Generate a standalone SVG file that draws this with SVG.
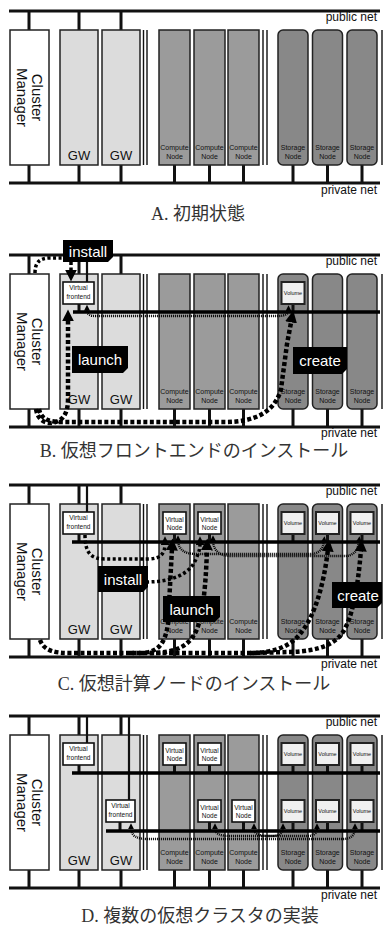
<svg xmlns="http://www.w3.org/2000/svg" width="384" height="929" viewBox="0 0 384 929">
<style>
.net{stroke:#111;stroke-width:3;fill:none}
.conn{stroke:#111;stroke-width:3;fill:none}
.conn2{stroke:#111;stroke-width:2.2;fill:none}
.nd{stroke:#222;stroke-width:1.5}
.cm{fill:#fff}
.gw{fill:#dcdcdc}
.cp{fill:#9b9b9b}
.st{fill:#888}
.sep{stroke:#111;stroke-width:1.4;fill:none}
.box{fill:#fff;stroke:#111;stroke-width:1.6}
.vol{fill:#f0f0f0;stroke:#222;stroke-width:2}
.inet{stroke:#000;stroke-width:3.5;fill:none}
text{font-family:"Liberation Sans",Arial,sans-serif;fill:#111}
.netlbl{font-size:12px;text-anchor:end}
.gwt{font-size:13px;text-anchor:middle}
.sm{font-size:7px;text-anchor:middle}
.vt{font-size:6.5px;text-anchor:middle}
.volt{font-size:5.5px;text-anchor:middle}
.cmt{font-size:15px;text-anchor:middle}
.cap{font-family:"Liberation Serif","Noto Sans CJK JP",serif;font-size:18px;text-anchor:middle;fill:#333}
.lab{fill:#000}
.labt{fill:#fff;font-size:15px;text-anchor:middle}
.thick{fill:none;stroke:#000;stroke-width:4.5;stroke-dasharray:4 2.5}
.med{fill:none;stroke:#000;stroke-width:3.5;stroke-dasharray:3 2.5}
.fine{fill:none;stroke:#000;stroke-width:2.4;stroke-dasharray:1 1}
</style>
<defs>
<marker id="ab" viewBox="0 0 10 10" refX="2" refY="5" markerWidth="12" markerHeight="12" markerUnits="userSpaceOnUse" orient="auto"><path d="M0,0L10,5L0,10z" fill="#000"/></marker>
<marker id="am" viewBox="0 0 10 10" refX="2" refY="5" markerWidth="9" markerHeight="9" markerUnits="userSpaceOnUse" orient="auto"><path d="M0,0L10,5L0,10z" fill="#000"/></marker>
<marker id="as" viewBox="0 0 10 10" refX="2" refY="5" markerWidth="6" markerHeight="6" markerUnits="userSpaceOnUse" orient="auto-start-reverse"><path d="M0,0L10,5L0,10z" fill="#000"/></marker>
</defs>

<!-- ============ Panel A ============ -->
<g id="panelA">
<g id="A-connectors">
<path class="net" d="M9 11H380M9 183H380"/>
<path class="conn" d="M29 11V30M79 11V30M121 11V30M29 165V183M79 165V183M121 165V183M174.5 165V183M209.5 165V183M243.5 165V183M293 165V183M327.5 165V183M362 165V183"/>
</g>
<text class="netlbl" x="377" y="21">public net</text>
<text class="netlbl" x="377" y="194">private net</text>
<g id="A-cm"><rect class="nd cm" x="10" y="30" width="39" height="135"/><text class="cmt" transform="translate(29,97.5) rotate(90)"><tspan x="0" y="-3">Cluster</tspan><tspan x="0" y="12">Manager</tspan></text></g>
<g id="A-gw1"><rect class="nd gw" x="60" y="30" width="38" height="135"/><text class="gwt" x="79" y="159.5">GW</text></g>
<g id="A-gw2"><rect class="nd gw" x="102" y="30" width="38" height="135"/><text class="gwt" x="121" y="159.5">GW</text></g>
<path class="sep" d="M143.5 30V165M147 30V165M263 30V165M267 30V165M382 30V165"/>
<g id="A-c1"><rect class="nd cp" x="159" y="30" width="31" height="135"/><text class="sm" x="174.5" y="150">Compute</text><text class="sm" x="174.5" y="159">Node</text></g>
<g id="A-c2"><rect class="nd cp" x="194" y="30" width="31" height="135"/><text class="sm" x="209.5" y="150">Compute</text><text class="sm" x="209.5" y="159">Node</text></g>
<g id="A-c3"><rect class="nd cp" x="228" y="30" width="31" height="135"/><text class="sm" x="243.5" y="150">Compute</text><text class="sm" x="243.5" y="159">Node</text></g>
<g id="A-s1"><rect class="nd st" x="278" y="30" width="30" height="135" rx="5"/><text class="sm" x="293" y="150">Storage</text><text class="sm" x="293" y="159">Node</text></g>
<g id="A-s2"><rect class="nd st" x="312.5" y="30" width="30" height="135" rx="5"/><text class="sm" x="327.5" y="150">Storage</text><text class="sm" x="327.5" y="159">Node</text></g>
<g id="A-s3"><rect class="nd st" x="347" y="30" width="30" height="135" rx="5"/><text class="sm" x="362" y="150">Storage</text><text class="sm" x="362" y="159">Node</text></g>
</g>
<text class="cap" x="198" y="220">A. 初期状態</text>

<!-- ============ Panel B ============ -->
<g id="panelB" transform="translate(0,244)">
<g id="B-connectors">
<path class="net" d="M9 11H380M9 183H380"/>
<path class="conn" d="M29 11V30M79 11V30M121 11V30M29 165V183M79 165V183M121 165V183M174.5 165V183M209.5 165V183M243.5 165V183M293 165V183M327.5 165V183M362 165V183"/>
</g>
<text class="netlbl" x="377" y="21">public net</text>
<text class="netlbl" x="377" y="193">private net</text>
<g id="B-cm"><rect class="nd cm" x="10" y="30" width="39" height="135"/><text class="cmt" transform="translate(29,97.5) rotate(90)"><tspan x="0" y="-3">Cluster</tspan><tspan x="0" y="12">Manager</tspan></text></g>
<g id="B-gw1"><rect class="nd gw" x="60" y="30" width="38" height="135"/><text class="gwt" x="79" y="159.5">GW</text></g>
<g id="B-gw2"><rect class="nd gw" x="102" y="30" width="38" height="135"/><text class="gwt" x="121" y="159.5">GW</text></g>
<path class="sep" d="M143.5 30V165M147 30V165M263 30V165M267 30V165M382 30V165"/>
<g id="B-c1"><rect class="nd cp" x="159" y="30" width="31" height="135"/><text class="sm" x="174.5" y="150">Compute</text><text class="sm" x="174.5" y="159">Node</text></g>
<g id="B-c2"><rect class="nd cp" x="194" y="30" width="31" height="135"/><text class="sm" x="209.5" y="150">Compute</text><text class="sm" x="209.5" y="159">Node</text></g>
<g id="B-c3"><rect class="nd cp" x="228" y="30" width="31" height="135"/><text class="sm" x="243.5" y="150">Compute</text><text class="sm" x="243.5" y="159">Node</text></g>
<g id="B-s1"><rect class="nd st" x="278" y="30" width="30" height="135" rx="5"/><text class="sm" x="293" y="150">Storage</text><text class="sm" x="293" y="159">Node</text></g>
<g id="B-s2"><rect class="nd st" x="312.5" y="30" width="30" height="135" rx="5"/><text class="sm" x="327.5" y="150">Storage</text><text class="sm" x="327.5" y="159">Node</text></g>
<g id="B-s3"><rect class="nd st" x="347" y="30" width="30" height="135" rx="5"/><text class="sm" x="362" y="150">Storage</text><text class="sm" x="362" y="159">Node</text></g>
<g id="B-inner-connectors">
<path class="conn2" d="M87 11V38"/>
<path class="conn" d="M79 60V68M293 60V68"/>
<path class="inet" d="M73 68H380"/>
</g>
<g id="B-vf"><rect class="box" x="63" y="38" width="31" height="22"/><text class="vt" x="78.5" y="46">Virtual</text><text class="vt" x="78.5" y="55">frontend</text></g>
<g id="B-vol1"><rect class="vol" x="281.5" y="38" width="23" height="22"/><text class="volt" x="293" y="51">Volume</text></g>
<g id="B-arrows">
<path class="med" d="M35 29C35 18 40 14 50 14L64 14"/>
<path class="med" d="M71 18L71 28" marker-end="url(#ab)"/>
<path class="thick" d="M36 165C38 178 48 181 56 178C64 175 68 168 68 155L68 75" marker-end="url(#ab)"/>
<path class="thick" d="M39 165C41 176 50 178 62 178L225 178C255 178 275 168 281 145L287 100L291.5 76" marker-end="url(#ab)"/>
<path class="fine" d="M87 65.5C87 71 90 72 96 72L278 72C285 72 288.5 70 288.5 66" marker-start="url(#as)" marker-end="url(#as)"/>
</g>
<g id="B-lbl-install"><polygon class="lab" points="63,-4 113,-4 113,13 108,18 63,18"/><text class="labt" x="88" y="12.5">install</text></g>
<g id="B-lbl-launch"><polygon class="lab" points="72,102 128,102 128,124 123,129 72,129"/><text class="labt" x="100" y="121">launch</text></g>
<g id="B-lbl-create"><polygon class="lab" points="293,103 347,103 347,125 342,130 293,130"/><text class="labt" x="320" y="122">create</text></g>
</g>
<text class="cap" x="194" y="457">B. 仮想フロントエンドのインストール</text>

<!-- ============ Panel C ============ -->
<g id="panelC" transform="translate(0,474)">
<g id="C-connectors">
<path class="net" d="M9 11H380M9 183H380"/>
<path class="conn" d="M29 11V30M79 11V30M121 11V30M29 165V183M79 165V183M121 165V183M174.5 165V183M209.5 165V183M243.5 165V183M293 165V183M327.5 165V183M362 165V183"/>
</g>
<text class="netlbl" x="377" y="21">public net</text>
<text class="netlbl" x="377" y="194">private net</text>
<g id="C-cm"><rect class="nd cm" x="10" y="30" width="39" height="135"/><text class="cmt" transform="translate(29,97.5) rotate(90)"><tspan x="0" y="-3">Cluster</tspan><tspan x="0" y="12">Manager</tspan></text></g>
<g id="C-gw1"><rect class="nd gw" x="60" y="30" width="38" height="135"/><text class="gwt" x="79" y="159.5">GW</text></g>
<g id="C-gw2"><rect class="nd gw" x="102" y="30" width="38" height="135"/><text class="gwt" x="121" y="159.5">GW</text></g>
<path class="sep" d="M143.5 30V165M147 30V165M263 30V165M267 30V165M382 30V165"/>
<g id="C-c1"><rect class="nd cp" x="159" y="30" width="31" height="135"/><text class="sm" x="174.5" y="150">Compute</text><text class="sm" x="174.5" y="159">Node</text></g>
<g id="C-c2"><rect class="nd cp" x="194" y="30" width="31" height="135"/><text class="sm" x="209.5" y="150">Compute</text><text class="sm" x="209.5" y="159">Node</text></g>
<g id="C-c3"><rect class="nd cp" x="228" y="30" width="31" height="135"/><text class="sm" x="243.5" y="150">Compute</text><text class="sm" x="243.5" y="159">Node</text></g>
<g id="C-s1"><rect class="nd st" x="278" y="30" width="30" height="135" rx="5"/><text class="sm" x="293" y="150">Storage</text><text class="sm" x="293" y="159">Node</text></g>
<g id="C-s2"><rect class="nd st" x="312.5" y="30" width="30" height="135" rx="5"/><text class="sm" x="327.5" y="150">Storage</text><text class="sm" x="327.5" y="159">Node</text></g>
<g id="C-s3"><rect class="nd st" x="347" y="30" width="30" height="135" rx="5"/><text class="sm" x="362" y="150">Storage</text><text class="sm" x="362" y="159">Node</text></g>
<g id="C-inner-connectors">
<path class="conn2" d="M87 11V38"/>
<path class="conn" d="M79 60V68M174.5 60V68M209.5 60V68M293 60V68M327.5 60V68M362 60V68"/>
<path class="inet" d="M72 68H380"/>
</g>
<g id="C-vf"><rect class="box" x="63" y="38" width="31" height="22"/><text class="vt" x="78.5" y="46">Virtual</text><text class="vt" x="78.5" y="55">frontend</text></g>
<g id="C-vn1"><rect class="box" x="163" y="38" width="23" height="22"/><text class="vt" x="174.5" y="47.5">Virtual</text><text class="vt" x="174.5" y="56">Node</text></g>
<g id="C-vn2"><rect class="box" x="198" y="38" width="23" height="22"/><text class="vt" x="209.5" y="47.5">Virtual</text><text class="vt" x="209.5" y="56">Node</text></g>
<g id="C-vol1"><rect class="vol" x="281.5" y="38" width="23" height="22"/><text class="volt" x="293" y="51">Volume</text></g>
<g id="C-vol2"><rect class="vol" x="316" y="38" width="23" height="22"/><text class="volt" x="327.5" y="51">Volume</text></g>
<g id="C-vol3"><rect class="vol" x="350.5" y="38" width="23" height="22"/><text class="volt" x="362" y="51">Volume</text></g>
<g id="C-arrows">
<path class="fine" d="M178 66C178 75 184 80 196 80L310 80C318 80 323 76 324 67" marker-start="url(#as)" marker-end="url(#as)"/>
<path class="fine" d="M213 66C213 76 219 82 231 82L345 82C353 82 358 77 359 67" marker-start="url(#as)" marker-end="url(#as)"/>
<path class="med" d="M85 61C85 80 92 85 105 85L148 85C160 85 165 80 165 69.5" marker-end="url(#am)"/>
<path class="med" d="M146 108C172 108 190 100 196 85C199 78 200 75 200 69.5" marker-end="url(#am)"/>
<path class="thick" d="M40 166C44 177 55 179 70 179L140 179C158 179 165 170 168 150L172 74" marker-end="url(#ab)"/>
<path class="thick" d="M150 179C176 179 190 172 197 155C203 140 206 110 207 74" marker-end="url(#ab)"/>
<path class="thick" d="M130 179L250 179C275 179 290 172 300 160C315 142 324 110 328 75" marker-end="url(#ab)"/>
<path class="thick" d="M250 179L290 178C320 177 335 170 343 158C352 144 358 115 361 75" marker-end="url(#ab)"/>
</g>
<g id="C-lbl-install"><polygon class="lab" points="98,92 148,92 148,113 143,118 98,118"/><text class="labt" x="123" y="110.5">install</text></g>
<g id="C-lbl-launch"><polygon class="lab" points="163,122 220,122 220,143 215,148 163,148"/><text class="labt" x="191.5" y="140.5">launch</text></g>
<g id="C-lbl-create"><polygon class="lab" points="332,108 382,108 382,129 377,134 332,134"/><text class="labt" x="358" y="126.5">create</text></g>
</g>
<text class="cap" x="194" y="690">C. 仮想計算ノードのインストール</text>

<!-- ============ Panel D ============ -->
<g id="panelD" transform="translate(0,705)">
<g id="D-connectors">
<path class="net" d="M9 11H380M9 183H380"/>
<path class="conn" d="M29 11V30M79 11V30M121 11V30M29 165V183M79 165V183M121 165V183M174.5 165V183M209.5 165V183M243.5 165V183M293 165V183M327.5 165V183M362 165V183"/>
</g>
<text class="netlbl" x="377" y="21">public net</text>
<text class="netlbl" x="377" y="194">private net</text>
<g id="D-cm"><rect class="nd cm" x="10" y="30" width="39" height="135"/><text class="cmt" transform="translate(29,97.5) rotate(90)"><tspan x="0" y="-3">Cluster</tspan><tspan x="0" y="12">Manager</tspan></text></g>
<g id="D-gw1"><rect class="nd gw" x="60" y="30" width="38" height="135"/><text class="gwt" x="79" y="159.5">GW</text></g>
<g id="D-gw2"><rect class="nd gw" x="102" y="30" width="38" height="135"/><text class="gwt" x="121" y="159.5">GW</text></g>
<path class="sep" d="M143.5 30V165M147 30V165M263 30V165M267 30V165M382 30V165"/>
<g id="D-c1"><rect class="nd cp" x="159" y="30" width="31" height="135"/><text class="sm" x="174.5" y="150">Compute</text><text class="sm" x="174.5" y="159">Node</text></g>
<g id="D-c2"><rect class="nd cp" x="194" y="30" width="31" height="135"/><text class="sm" x="209.5" y="150">Compute</text><text class="sm" x="209.5" y="159">Node</text></g>
<g id="D-c3"><rect class="nd cp" x="228" y="30" width="31" height="135"/><text class="sm" x="243.5" y="150">Compute</text><text class="sm" x="243.5" y="159">Node</text></g>
<g id="D-s1"><rect class="nd st" x="278" y="30" width="30" height="135" rx="5"/><text class="sm" x="293" y="150">Storage</text><text class="sm" x="293" y="159">Node</text></g>
<g id="D-s2"><rect class="nd st" x="312.5" y="30" width="30" height="135" rx="5"/><text class="sm" x="327.5" y="150">Storage</text><text class="sm" x="327.5" y="159">Node</text></g>
<g id="D-s3"><rect class="nd st" x="347" y="30" width="30" height="135" rx="5"/><text class="sm" x="362" y="150">Storage</text><text class="sm" x="362" y="159">Node</text></g>
<g id="D-inner-connectors">
<path class="conn2" d="M87 11V38M129 11V95"/>
<path class="conn" d="M79 60V68M174.5 60V68M209.5 60V68M293 60V68M327.5 60V68M362 60V68M120 117V126M209.5 117V126M243.5 117V126M293 117V126M327.5 117V126M362 117V126"/>
<path class="inet" d="M72 68H380M106 126H380"/>
</g>
<g id="D-vf1"><rect class="box" x="63" y="38" width="31" height="22"/><text class="vt" x="78.5" y="46">Virtual</text><text class="vt" x="78.5" y="55">frontend</text></g>
<g id="D-vf2"><rect class="box" x="106" y="95" width="29" height="22"/><text class="vt" x="120.5" y="103">Virtual</text><text class="vt" x="120.5" y="112">frontend</text></g>
<g id="D-vn1"><rect class="box" x="163" y="38" width="23" height="22"/><text class="vt" x="174.5" y="47.5">Virtual</text><text class="vt" x="174.5" y="56">Node</text></g>
<g id="D-vn2"><rect class="box" x="198" y="38" width="23" height="22"/><text class="vt" x="209.5" y="47.5">Virtual</text><text class="vt" x="209.5" y="56">Node</text></g>
<g id="D-vn3"><rect class="box" x="198" y="95" width="23" height="22"/><text class="vt" x="209.5" y="104.5">Virtual</text><text class="vt" x="209.5" y="113">Node</text></g>
<g id="D-vn4"><rect class="box" x="232" y="95" width="23" height="22"/><text class="vt" x="243.5" y="104.5">Virtual</text><text class="vt" x="243.5" y="113">Node</text></g>
<g id="D-vol1"><rect class="vol" x="281.5" y="38" width="23" height="22"/><text class="volt" x="293" y="51">Volume</text></g>
<g id="D-vol2"><rect class="vol" x="316" y="38" width="23" height="22"/><text class="volt" x="327.5" y="51">Volume</text></g>
<g id="D-vol3"><rect class="vol" x="350.5" y="38" width="23" height="22"/><text class="volt" x="362" y="51">Volume</text></g>
<g id="D-vol4"><rect class="vol" x="281.5" y="95" width="23" height="22"/><text class="volt" x="293" y="108">Volume</text></g>
<g id="D-vol5"><rect class="vol" x="316" y="95" width="23" height="22"/><text class="volt" x="327.5" y="108">Volume</text></g>
<g id="D-vol6"><rect class="vol" x="350.5" y="95" width="23" height="22"/><text class="volt" x="362" y="108">Volume</text></g>
<g id="D-arrows">
<path class="fine" d="M131 123C131 131 137 134 148 134L343 134C351 134 355 130 355 123" marker-start="url(#as)" marker-end="url(#as)"/>
<path class="fine" d="M215 123C215 129 220 131 230 131L272 131C279 131 283 128 283 123" marker-start="url(#as)" marker-end="url(#as)"/>
<path class="fine" d="M254 123C254 129 259 131 268 131L308 131C314 131 317 128 317 123" marker-start="url(#as)" marker-end="url(#as)"/>
</g>
</g>
<text class="cap" x="200" y="922">D. 複数の仮想クラスタの実装</text>
</svg>
